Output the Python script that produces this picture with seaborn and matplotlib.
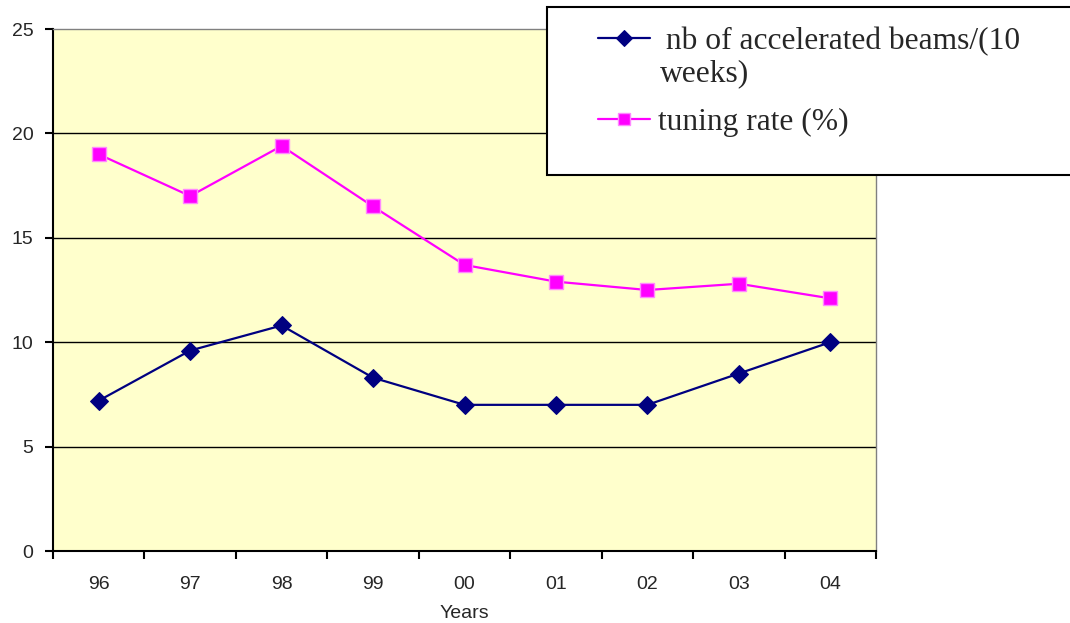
import matplotlib
matplotlib.use("Agg")
import matplotlib.pyplot as plt
import seaborn as sns
import pandas as pd
from matplotlib.patches import Rectangle

years = ["96", "97", "98", "99", "00", "01", "02", "03", "04"]
beams = [7.2, 9.6, 10.8, 8.3, 7.0, 7.0, 7.0, 8.5, 10.0]
tuning = [19.0, 17.0, 19.4, 16.5, 13.7, 12.9, 12.5, 12.8, 12.1]
beams_label = [" nb of accelerated beams/(10", "weeks)"]
tuning_label = "tuning rate (%)"
y_ticks = [0, 5, 10, 15, 20, 25]

sns.set_style("white")
plt.rcParams["font.family"] = ["Liberation Sans", "DejaVu Sans"]

W, H = 1070.0, 623.0
fig = plt.figure(figsize=(W / 100, H / 100), dpi=100)
ax = fig.add_axes([53 / W, 1 - 551 / H, 823 / W, 522 / H])
ax.set_facecolor("#FFFFCC")

df = pd.DataFrame({"year": years, "beams": beams, "tuning": tuning})
df["pos"] = range(len(years))

sns.lineplot(data=df, x="pos", y="beams", ax=ax, color="#000080", lw=1.6,
             marker="D", markersize=9, markeredgecolor="#000080",
             sort=False, label=beams_label[0], zorder=4)
sns.lineplot(data=df, x="pos", y="tuning", ax=ax, color="#FF00FF", lw=1.6,
             marker="s", markersize=9.5, markeredgecolor="#FF88FF",
             markeredgewidth=1.0, sort=False, label=tuning_label, zorder=4)

ax.set_xlim(-0.5, len(years) - 0.5)
ax.set_ylim(0, 25)
ax.set_yticks(y_ticks)
ax.set_yticklabels([str(t) for t in y_ticks], fontsize=14)
for t in y_ticks[1:-1]:
    ax.axhline(t, color="black", lw=1.0, zorder=1)

# ticks sit on category boundaries, labels at category centres
ax.set_xticks([i - 0.5 for i in range(len(years) + 1)])
ax.set_xticklabels([])
ax.set_xticks(list(range(len(years))), minor=True)
ax.set_xticklabels(years, minor=True, fontsize=14)
ax.tick_params(axis="x", which="major", direction="out", length=5.5, width=1.5,
               color="black", bottom=True)
ax.tick_params(axis="x", which="minor", length=0, pad=18)
ax.tick_params(axis="y", direction="out", length=6, width=1.5, color="black",
               left=True, pad=8)

ax.set_xlabel("Years", fontsize=14, labelpad=9)
ax.set_ylabel("")

for side in ("left", "bottom"):
    ax.spines[side].set_color("black")
    ax.spines[side].set_linewidth(1.5)
for side in ("top", "right"):
    ax.spines[side].set_color("#808080")
    ax.spines[side].set_linewidth(1.0)

# legend box in figure coordinates, running past the right edge
box = Rectangle((547 / W, 1 - 175 / H), 540 / W, 168 / H,
                transform=fig.transFigure, facecolor="white",
                edgecolor="black", lw=1.5, zorder=5)
fig.patches.append(box)

legend_font = {"family": "Liberation Serif", "size": 22.7}
handles, labels = ax.get_legend_handles_labels()
leg = fig.legend(handles, labels, loc="upper left",
                 bbox_to_anchor=(598 / W, 1 - 27 / H), frameon=False,
                 prop=legend_font, borderpad=0, borderaxespad=0,
                 handlelength=1.65, handletextpad=0.25, labelspacing=1.65,
                 markerscale=0.9)
leg.set_zorder(6)
if ax.get_legend() is not None:
    ax.get_legend().remove()

# wrapped second line of the first legend entry
fig.text(660 / W, 1 - 81 / H, beams_label[1], fontdict=legend_font,
         va="baseline", ha="left", zorder=7)

fig.savefig("out.png", dpi=100)
